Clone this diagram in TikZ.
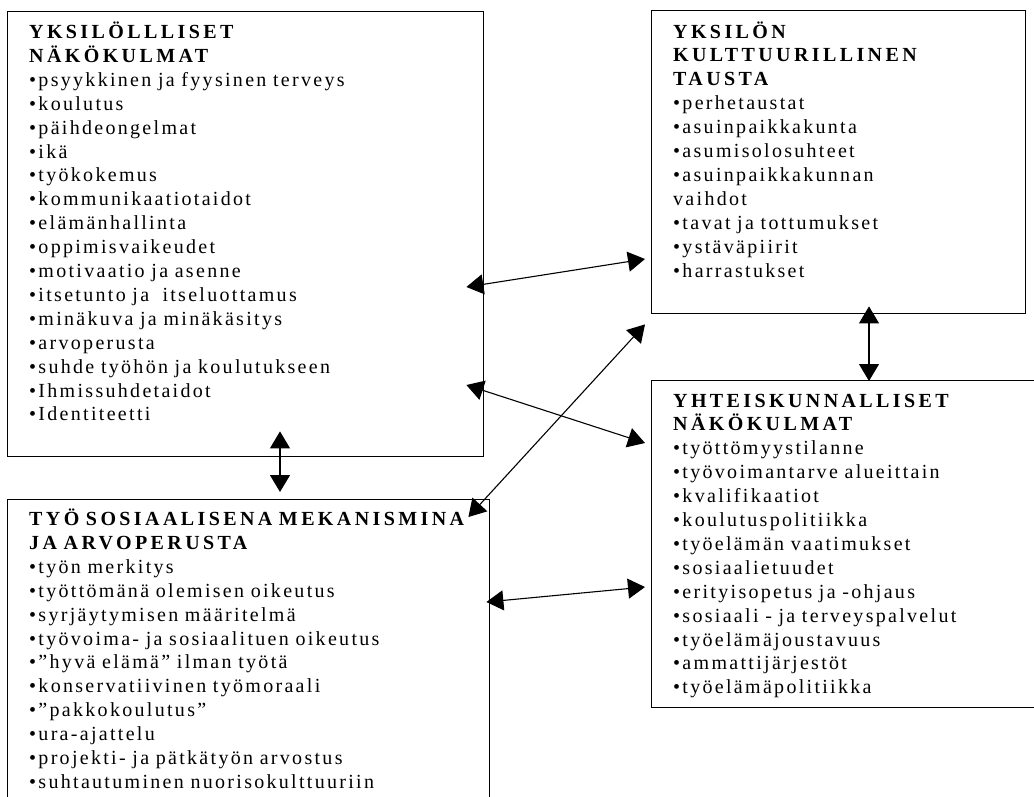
\documentclass[tikz,border=0pt]{standalone}
\usepackage{fontspec}
\setmainfont{Liberation Serif}
\newfontfamily\leipa[LetterSpace=11.5, WordSpace=1.3]{Liberation Serif}
\newfontfamily\otsikko[LetterSpace=17, WordSpace=1.8]{Liberation Serif}
\usetikzlibrary{arrows.meta, calc}
\newcommand{\ots}{\otsikko\bfseries}
\newcommand{\lei}{\leipa\mdseries}
\tikzset{
  laatikko/.style={rectangle, draw=black, line width=1.4pt, anchor=north west,
                   inner sep=0pt},
  teksti/.style={anchor=base west, inner sep=0pt, text width=470pt, align=left,
                 font=\leipa\fontsize{20}{23.9}\selectfont},
  nuoli/.style={{Triangle[length=17pt,width=20pt]}-{Triangle[length=17pt,width=20pt]},
                line width=1.1pt},
}

\begin{document}
\begin{tikzpicture}[x=1pt, y=-1pt]
  \useasboundingbox (0,0) rectangle (1034,796);

  \node[laatikko, minimum width=476pt, minimum height=445pt] (yks) at (7,11) {};
  \node[laatikko, minimum width=374pt, minimum height=303pt] (kult) at (651,10) {};
  \node[laatikko, minimum width=390pt, minimum height=327pt] (yht) at (651,380) {};
  \node[laatikko, minimum width=482pt, minimum height=320pt] (tyo) at (7,499) {};

  \node[teksti] (yksT) at ($(yks.north west)+(22,27.5)$) {\ots YKSILÖLLLISET\\
    NÄKÖKULMAT\\ \lei
    •psyykkinen ja fyysinen terveys\\
    •koulutus\\
    •päihdeongelmat\\
    •ikä\\
    •työkokemus\\
    •kommunikaatiotaidot\\
    •elämänhallinta\\
    •oppimisvaikeudet\\
    •motivaatio ja asenne\\
    •itsetunto ja~ itseluottamus\\
    •minäkuva ja minäkäsitys\\
    •arvoperusta\\
    •suhde työhön ja koulutukseen\\
    •Ihmissuhdetaidot\\
    •Identiteetti};

  \node[teksti] (kultT) at ($(kult.north west)+(22,28)$) {\ots YKSILÖN\\
    KULTTUURILLINEN\\
    TAUSTA\\ \lei
    •perhetaustat\\
    •asuinpaikkakunta\\
    •asumisolosuhteet\\
    •asuinpaikkakunnan\\
    vaihdot\\
    •tavat ja tottumukset\\
    •ystäväpiirit\\
    •harrastukset};

  \node[teksti] (yhtT) at ($(yht.north west)+(22,27)$) {\ots YHTEISKUNNALLISET\\
    NÄKÖKULMAT\\ \lei
    •työttömyystilanne\\
    •työvoimantarve alueittain\\
    •kvalifikaatiot\\
    •koulutuspolitiikka\\
    •työelämän vaatimukset\\
    •sosiaalietuudet\\
    •erityisopetus ja -ohjaus\\
    •sosiaali - ja terveyspalvelut\\
    •työelämäjoustavuus\\
    •ammattijärjestöt\\
    •työelämäpolitiikka};

  \node[teksti] (tyoT) at ($(tyo.north west)+(22,26.5)$) {\ots TYÖ SOSIAALISENA MEKANISMINA\\
    JA ARVOPERUSTA\\ \lei
    •työn merkitys\\
    •työttömänä olemisen oikeutus\\
    •syrjäytymisen määritelmä\\
    •työvoima- ja sosiaalituen oikeutus\\
    •”hyvä elämä” ilman työtä\\
    •konservatiivinen työmoraali\\
    •”pakkokoulutus”\\
    •ura-ajattelu\\
    •projekti- ja pätkätyön arvostus\\
    •suhtautuminen nuorisokulttuuriin};

  \draw[nuoli] ($(yks.north east)+(-18,276)$) -- ($(kult.north west)+(-6,249)$);
  \draw[nuoli] ($(yks.north east)+(-18,374)$) -- ($(yht.north west)+(-6,63)$);
  \draw[nuoli] ($(tyo.north east)+(-22,18)$) -- ($(kult.south west)+(-6,10)$);
  \draw[nuoli] ($(tyo.north east)+(-4,103)$) -- ($(yht.north west)+(-6,207)$);
  \draw[nuoli] ($(yks.south west)+(273,-26)$) -- ($(tyo.north west)+(273,-7)$);
  \draw[nuoli] ($(kult.south west)+(218,-8)$) -- ($(yht.north west)+(218,1)$);
\end{tikzpicture}
\end{document}
